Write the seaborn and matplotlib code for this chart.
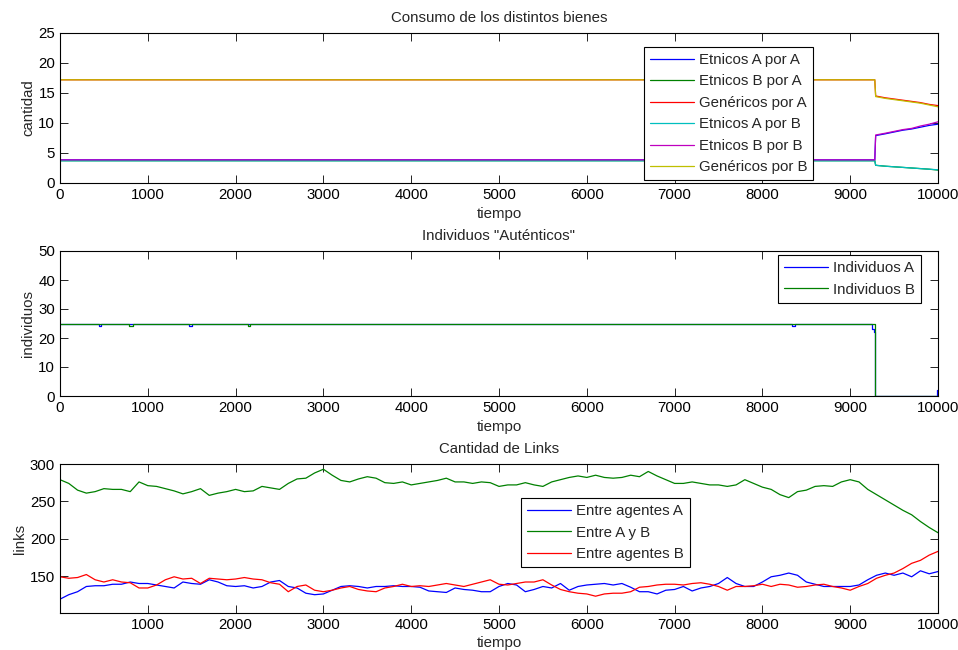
import numpy as np
import pandas as pd
import matplotlib
matplotlib.use("Agg")
import matplotlib.pyplot as plt
import seaborn as sns

# ---------------- data ----------------
# Consumption of goods (piecewise: constant until the switch near t=9280)
cons_t = [0, 9280, 9290, 9400, 9500, 9600, 9700, 9800, 9900, 10000]
etn_A_por_A = [3.85, 3.85, 7.9, 8.2, 8.5, 8.8, 9.0, 9.3, 9.6, 9.8]
etn_B_por_A = [3.72, 3.72, 2.95, 2.8, 2.7, 2.6, 2.5, 2.4, 2.3, 2.15]
gen_por_A = [17.2, 17.2, 14.5, 14.2, 14.0, 13.8, 13.6, 13.4, 13.1, 12.9]
etn_A_por_B = [3.70, 3.70, 2.95, 2.8, 2.7, 2.6, 2.5, 2.4, 2.3, 2.2]
etn_B_por_B = [3.85, 3.85, 8.0, 8.3, 8.6, 8.9, 9.1, 9.5, 9.8, 10.2]
gen_por_B = [17.2, 17.2, 14.4, 14.1, 13.9, 13.7, 13.5, 13.3, 13.0, 12.7]
cons_labels = ["Etnicos A por A", "Etnicos B por A", "Genéricos por A",
               "Etnicos A por B", "Etnicos B por B", "Genéricos por B"]

# Authentic individuals (step changes)
indA_t = [0, 440, 470, 1470, 1500, 8340, 8370, 9250, 9270, 9285, 9985, 10000]
indA_v = [25, 24, 25, 24, 25, 24, 25, 23, 22, 0, 2, 2]
indB_t = [0, 790, 830, 2140, 2160, 9285, 10000]
indB_v = [25, 24, 25, 24, 25, 0, 0]

# Number of links, sampled every 100 time steps
links_t = list(range(0, 10001, 100))
links_A = [119, 125, 129, 136, 137, 137, 139, 139, 142, 140,
           140, 138, 136, 134, 142, 140, 139, 145, 142, 137,
           136, 137, 134, 136, 142, 144, 136, 134, 127, 125,
           126, 131, 136, 137, 136, 134, 136, 136, 137, 136,
           136, 135, 130, 129, 128, 134, 132, 131, 129, 129,
           136, 140, 138, 129, 132, 136, 134, 140, 131, 136,
           138, 139, 140, 138, 140, 135, 129, 129, 126, 131,
           132, 136, 130, 134, 136, 140, 148, 140, 136, 136,
           142, 149, 151, 154, 151, 142, 139, 136, 136, 136,
           136, 138, 145, 151, 154, 151, 154, 149, 157, 153, 156]
links_AB = [279, 274, 265, 261, 263, 267, 266, 266, 263, 276,
            271, 270, 267, 264, 260, 263, 267, 258, 261, 263,
            266, 263, 264, 270, 268, 266, 274, 280, 281, 288,
            293, 285, 278, 276, 280, 283, 281, 275, 274, 276,
            272, 274, 276, 278, 281, 276, 276, 274, 276, 275,
            270, 272, 272, 275, 272, 270, 276, 279, 282, 284,
            282, 285, 282, 281, 282, 285, 283, 290, 284, 279,
            274, 274, 276, 274, 272, 272, 270, 272, 279, 274,
            269, 266, 259, 255, 263, 265, 270, 271, 270, 276,
            279, 276, 266, 259, 252, 245, 238, 232, 223, 215, 208]
links_B = [149, 147, 148, 152, 145, 142, 145, 142, 141, 134,
           134, 138, 145, 149, 146, 147, 140, 147, 146, 145,
           146, 148, 146, 145, 141, 139, 129, 136, 138, 131,
           129, 131, 134, 136, 132, 130, 129, 134, 136, 139,
           136, 137, 136, 138, 140, 138, 136, 139, 142, 145,
           139, 138, 140, 142, 142, 145, 138, 132, 129, 127,
           126, 123, 126, 127, 127, 129, 135, 136, 138, 139,
           139, 138, 140, 141, 139, 136, 131, 136, 136, 137,
           139, 136, 139, 138, 135, 136, 138, 139, 136, 134,
           131, 136, 140, 147, 151, 154, 160, 167, 171, 178, 183]
links_labels = ["Entre agentes A", "Entre A y B", "Entre agentes B"]

# ---------------- style ----------------
FS = 10.8
sns.set_theme(style="ticks")
plt.rcParams["font.family"] = ["Liberation Sans", "DejaVu Sans"]
plt.rcParams.update({
    "font.size": FS,
    "axes.linewidth": 0.8,
    "axes.edgecolor": "black",
    "xtick.direction": "in",
    "ytick.direction": "in",
    "xtick.top": True,
    "ytick.right": True,
    "xtick.major.size": 6,
    "ytick.major.size": 6,
    "xtick.major.width": 0.6,
    "ytick.major.width": 0.6,
    "xtick.color": "black",
    "ytick.color": "black",
    "xtick.labelsize": FS,
    "ytick.labelsize": FS,
    "axes.labelsize": FS,
    "axes.titlesize": FS,
})

ml_blue = (0, 0, 1)
ml_green = (0, 0.5, 0)
ml_red = (1, 0, 0)
ml_cyan = (0, 0.75, 0.75)
ml_magenta = (0.75, 0, 0.75)
ml_yellow = (0.75, 0.75, 0)

fig = plt.figure(figsize=(9.58, 6.5), dpi=100)
W, H = 958, 650


def axes_px(left, top, right, bottom):
    return fig.add_axes([left / W, 1 - bottom / H, (right - left) / W, (bottom - top) / H])


def matlab_legend(ax, anchor, **kw):
    leg = ax.legend(loc="upper left", bbox_to_anchor=anchor, borderaxespad=0,
                    fancybox=False, edgecolor="black", framealpha=1,
                    handlelength=2.9, handletextpad=0.35, labelspacing=0.5,
                    borderpad=0.4, fontsize=FS, **kw)
    leg.get_frame().set_linewidth(0.8)
    return leg


lw = 0.9

# ---------------- panel 1: consumption ----------------
ax1 = axes_px(60, 33, 938, 183)
cons_series = [etn_A_por_A, etn_B_por_A, gen_por_A, etn_A_por_B, etn_B_por_B, gen_por_B]
cons_colors = [ml_blue, ml_green, ml_red, ml_cyan, ml_magenta, ml_yellow]
for vals, col, lab in zip(cons_series, cons_colors, cons_labels):
    df = pd.DataFrame({"tiempo": cons_t, "cantidad": vals})
    sns.lineplot(data=df, x="tiempo", y="cantidad", color=col, label=lab,
                 estimator=None, sort=False, linewidth=lw, ax=ax1)
ax1.set_xlim(0, 10000)
ax1.set_ylim(0, 25)
ax1.set_xticks(range(0, 10001, 1000))
ax1.set_yticks(range(0, 26, 5))
ax1.set_title("Consumo de los distintos bienes", pad=8)
ax1.set_xlabel("tiempo", labelpad=4)
ax1.set_ylabel("cantidad", labelpad=2)
matlab_legend(ax1, ((644 - 60) / 878, (183 - 47) / 150))

# ---------------- panel 2: authentic individuals ----------------
ax2 = axes_px(60, 251, 938, 396)
for tt, vv, col, lab in [(indA_t, indA_v, ml_blue, "Individuos A"),
                         (indB_t, indB_v, ml_green, "Individuos B")]:
    df = pd.DataFrame({"tiempo": tt, "individuos": vv})
    sns.lineplot(data=df, x="tiempo", y="individuos", color=col, label=lab,
                 estimator=None, sort=False, linewidth=lw,
                 drawstyle="steps-post", ax=ax2)
ax2.set_xlim(0, 10000)
ax2.set_ylim(0, 50)
ax2.set_xticks(range(0, 10001, 1000))
ax2.set_yticks(range(0, 51, 10))
ax2.set_title('Individuos "Auténticos"', pad=8)
ax2.set_xlabel("tiempo", labelpad=4)
ax2.set_ylabel("individuos", labelpad=2)
matlab_legend(ax2, ((778 - 60) / 878, (396 - 255) / 145))

# ---------------- panel 3: links ----------------
ax3 = axes_px(60, 464, 938, 613)
for vals, col, lab in [(links_A, ml_blue, links_labels[0]),
                       (links_AB, ml_green, links_labels[1]),
                       (links_B, ml_red, links_labels[2])]:
    df = pd.DataFrame({"tiempo": links_t, "links": vals})
    sns.lineplot(data=df, x="tiempo", y="links", color=col, label=lab,
                 estimator=None, sort=False, linewidth=lw, ax=ax3)
ax3.set_xlim(0, 10000)
ax3.set_ylim(100.5, 300)
ax3.set_xticks(range(1000, 10001, 1000))
ax3.set_yticks(range(150, 301, 50))
ax3.set_title("Cantidad de Links", pad=8)
ax3.set_xlabel("tiempo", labelpad=3)
ax3.set_ylabel("links", labelpad=2)
matlab_legend(ax3, ((521 - 60) / 878, (613 - 498) / 149))

fig.savefig("out.png", dpi=100)
